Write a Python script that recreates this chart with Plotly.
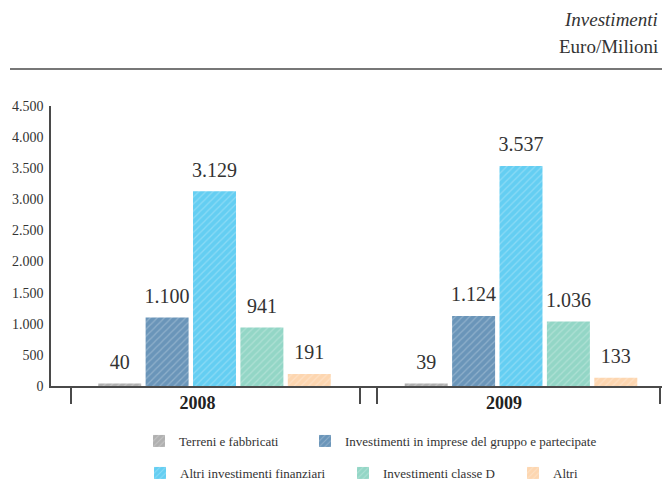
import plotly.graph_objects as go

# dati (Euro/Milioni)
anni = ["2008", "2009"]
terreni = [40, 39]
imprese = [1100, 1124]
altri_fin = [3129, 3537]
classe_d = [941, 1036]
altri = [191, 133]

SERIF = "Liberation Serif"
GRIGIO = "#4a4a4a"
TESTO = "#333333"

serie = [
    ("Terreni e fabbricati", terreni, "#b0b0b0"),
    ("Investimenti in imprese del gruppo e partecipate", imprese, "#6a95b9"),
    ("Altri investimenti finanziari", altri_fin, "#64cef2"),
    ("Investimenti classe D", classe_d, "#93d6c6"),
    ("Altri", altri, "#fdd6b0"),
]

# posizione delle voci di legenda (x, y in pixel del riferimento)
pos_legenda = [(139, 441), (305, 441), (140, 473), (343, 473), (513, 473)]

# la pagina ha 8px di margine: tutto spostato di conseguenza
OFF = 8
W, H = 670, 481


def py(pix):
    # pixel verticale -> coordinata paper (area grafico 106..386)
    return (386 - pix) / 280


def px(pix):
    # pixel orizzontale -> coordinata paper (area grafico 51..670)
    return (pix - 51) / 619


# asse x: centri dei gruppi a 214.5 e 521, 306.5 px per categoria
UNIT = 306.5
x0 = (51 - 214.5) / UNIT
x1 = x0 + 619 / UNIT
bordi = [(p - 214.5) / UNIT for p in (71, 360, 377, 660)]

fig = go.Figure()
for i, (nome, valori, colore) in enumerate(serie):
    leg = "legend" if i == 0 else f"legend{i + 1}"
    fig.add_trace(go.Bar(
        x=anni, y=valori, name=nome, legend=leg, offsetgroup=str(i),
        marker=dict(color=colore, line=dict(width=0),
                    pattern=dict(shape="/", fgcolor="white", fgopacity=0.25,
                                 size=5, solidity=0.25)),
        hoverinfo="y",
    ))
for i, (nome, valori, colore) in enumerate(serie):
    fig.add_trace(go.Scatter(
        x=anni, y=valori, mode="markers+text", offsetgroup=str(i),
        marker=dict(size=14, opacity=0), texttemplate="%{y:,.0f}",
        textposition="top center", showlegend=False, hoverinfo="skip",
        textfont=dict(family=SERIF, size=20, color=TESTO), cliponaxis=False,
    ))

# traccia invisibile per far disegnare le tacche di separazione (asse x2)
fig.add_trace(go.Scatter(
    x=bordi, y=[0] * len(bordi), xaxis="x2", mode="markers",
    marker=dict(opacity=0), showlegend=False, hoverinfo="skip",
))

legende = {}
for i, (lx, ly) in enumerate(pos_legenda):
    chiave = "legend" if i == 0 else f"legend{i + 1}"
    legende[chiave] = dict(
        orientation="h", xref="container", yref="container",
        x=(lx - OFF) / W, y=1 - (ly - OFF - 15) / H,
        xanchor="left", yanchor="top",
        font=dict(family=SERIF, size=13, color=TESTO),
        bgcolor="rgba(0,0,0,0)",
    )

fig.update_layout(
    width=W, height=H,
    margin=dict(l=51 - OFF, r=OFF, t=106 - OFF, b=H - (386 - OFF), autoexpand=False),
    paper_bgcolor="white", plot_bgcolor="white",
    separators=",.",
    barmode="group", bargap=0.2268, bargroupgap=0.093,
    scattermode="group", scattergap=0.2268,
    font=dict(family=SERIF, color=TESTO),
    xaxis=dict(
        range=[x0, x1], showline=True, linecolor=GRIGIO, linewidth=1.5,
        ticks="", ticklabelstandoff=0, ticklabelshift=-17, automargin=False,
        tickfont=dict(family=SERIF, size=18, color="#222222", weight="bold"),
        showgrid=False, zeroline=False,
    ),
    xaxis2=dict(
        type="linear", overlaying="x", anchor="y", side="bottom", range=[x0, x1],
        tickmode="array", tickvals=bordi, showticklabels=False, automargin=False,
        ticks="outside", ticklen=17, tickwidth=1.5, tickcolor=GRIGIO,
        showline=False, showgrid=False, zeroline=False,
    ),
    yaxis=dict(
        range=[0, 4500], tickvals=[0, 500, 1000, 1500, 2000, 2500, 3000, 3500, 4000, 4500],
        tickformat=",.0f", showline=True, linecolor=GRIGIO, linewidth=1.5,
        showgrid=False, zeroline=False, ticks="", ticklabelstandoff=3, automargin=False,
        tickfont=dict(family=SERIF, size=14, color=TESTO),
    ),
    annotations=[
        dict(text="<i>Investimenti</i>", xref="paper", yref="paper", x=px(660), y=py(19),
             xanchor="right", yanchor="middle", showarrow=False,
             font=dict(family=SERIF, size=19, color=TESTO)),
        dict(text="Euro/Milioni", xref="paper", yref="paper", x=px(660), y=py(46),
             xanchor="right", yanchor="middle", showarrow=False,
             font=dict(family=SERIF, size=19, color=TESTO)),
    ],
    shapes=[
        dict(type="line", xref="paper", yref="paper", x0=px(10), x1=px(670),
             y0=py(69), y1=py(69), line=dict(color=GRIGIO, width=1.5)),
    ],
    **legende,
)

fig.write_html("out.html")
